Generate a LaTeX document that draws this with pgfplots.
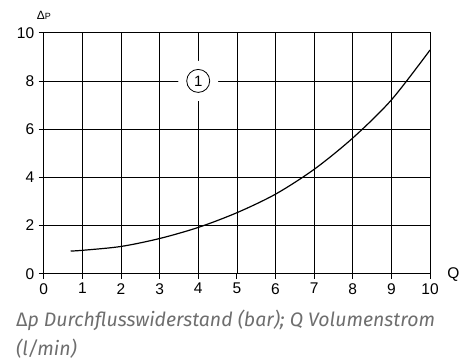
\documentclass[border=0pt]{standalone}
\usepackage{fontspec}
\setmainfont{Liberation Sans}
\newfontfamily\capfont{Fira Sans}
\usepackage{pgfplots}
\pgfplotsset{compat=1.18}
\definecolor{capgray}{HTML}{6E6E6E}

\begin{document}
\begin{tikzpicture}
\path[use as bounding box] (-43.7pt,-86.3pt) rectangle (429.3pt,273.7pt);
\begin{axis}[
  scale only axis,
  width=386.3pt, height=241pt,
  at={(0,0)}, anchor=south west,
  xmin=0, xmax=10, ymin=0, ymax=10,
  xtick={0,1,...,10}, ytick={0,2,...,10},
  tick align=outside,
  major tick length=5pt,
  tick style={black, line width=0.8pt},
  xtick pos=bottom, ytick pos=left,
  grid=major,
  grid style={black, line width=0.7pt},
  axis line style={black, line width=0.9pt},
  tick label style={font=\fontsize{15.5}{15.5}\selectfont},
  /pgf/number format/assume math mode=true,
  xticklabel style={yshift=-1pt},
  yticklabel style={xshift=-1pt},
  clip=false,
]
\addplot[black, line width=1.2pt, smooth] coordinates {
  (0.7,0.94) (1,0.97) (2,1.13) (3,1.46) (4,1.92) (5,2.53)
  (6,3.30) (7,4.33) (8,5.63) (9,7.21) (10,9.28)
};
\node[circle, fill=white, minimum size=40pt, inner sep=0pt] at (axis cs:4,8) {};
\node[circle, draw=black, line width=0.8pt, minimum size=23pt, inner sep=0pt,
      font=\fontsize{15}{15}\selectfont] at (axis cs:4,8) {1};
\end{axis}
\node[anchor=base west, inner sep=0pt] at (-7pt,254pt)
  {\fontsize{12}{12}\selectfont Δ\fontsize{9}{9}\selectfont P};
\node[anchor=center, inner sep=0pt, font=\fontsize{15.5}{15.5}\selectfont] at (409.8pt,-1.3pt) {Q};
\node[anchor=base west, inner sep=0pt, text=capgray] at (-27.7pt,-53pt)
  {\capfont\fontsize{19.5}{19.5}\selectfont Δ\textit{p Durchflusswiderstand (bar); Q Volumenstrom}};
\node[anchor=base west, inner sep=0pt, text=capgray] at (-27.7pt,-81.5pt)
  {\capfont\fontsize{19.5}{19.5}\selectfont\textit{(l/min)}};
\end{tikzpicture}
\end{document}
